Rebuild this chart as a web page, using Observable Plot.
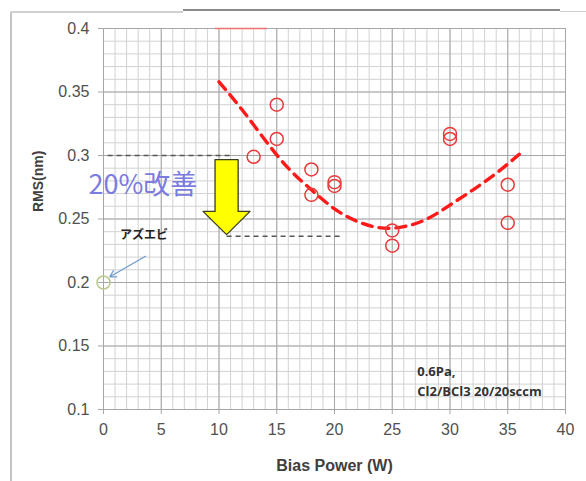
<!DOCTYPE html>
<html><head><meta charset="utf-8">
<script src="https://cdn.jsdelivr.net/npm/d3@7"></script>
<script src="https://cdn.jsdelivr.net/npm/@observablehq/plot@0.6"></script>
<style>
body{margin:0;background:#fff;}
#wrap{position:relative;width:586px;height:481px;overflow:hidden;background:#fff;}
.ln{position:absolute;}
#chart{position:absolute;left:0;top:0;}
</style></head>
<body><div id="wrap">
<div class="ln" style="left:10px;top:11px;width:2px;height:470px;background:#c4c4c4"></div>
<div class="ln" style="left:10px;top:11px;width:173px;height:2px;background:#d0d0d0"></div>
<div class="ln" style="left:183px;top:9px;width:377px;height:2px;background:#8a8a8a"></div>
<div class="ln" style="left:560px;top:11px;width:26px;height:1px;background:#d0d0d0"></div>
<div id="chart"></div></div>
<script>
// Measured samples
const biasPower = [13, 15, 15, 18, 18, 20, 20, 25, 25, 30, 30, 35, 35];
const rms = [0.299, 0.340, 0.313, 0.289, 0.269, 0.279, 0.276, 0.241, 0.229, 0.317, 0.313, 0.277, 0.247];
// Reference point (アズエビ)
const refPower = [0];
const refRms = [0.2];
// Dashed trend curve
const fitPower = [10, 12, 14, 16, 18, 20, 22, 24, 26, 28, 30, 32, 34, 36];
const fitRms = [0.358, 0.336, 0.312, 0.290, 0.273, 0.258, 0.248, 0.243, 0.244, 0.250, 0.261, 0.273, 0.286, 0.301];
// Axis ticks
const xTicks = [0, 5, 10, 15, 20, 25, 30, 35, 40];
const yTicks = [0.1, 0.15, 0.2, 0.25, 0.3, 0.35, 0.4];
// Annotation helpers (data units)
const guideY = [0.3, 0.2365];
const guideX1 = [0.4, 10.7];
const guideX2 = [11, 20.5];
const arrowY = [0.2963, 0.2556, 0.2556, 0.2373];
const arrowX1 = [9.7, 9.7, 8.66, 10.7];
const arrowX2 = [11.7, 11.7, 12.73, 10.7];

const points = biasPower.map((x, i) => ({x, y: rms[i]}));
const ref = refPower.map((x, i) => ({x, y: refRms[i]}));
const fit = fitPower.map((x, i) => ({x, y: fitRms[i]}));
const guides = guideY.map((y, i) => ({y, x1: guideX1[i], x2: guideX2[i]}));
const arrow = arrowY.map((y, i) => ({y, x1: arrowX1[i], x2: arrowX2[i]}));
const minorX = d3.range(0, 41);
const minorY = d3.range(10, 41).map(d => d / 100);

const chart = Plot.plot({
  width: 586, height: 481,
  marginLeft: 103, marginRight: 21, marginTop: 28, marginBottom: 72,
  x: {domain: [0, 40]},
  y: {domain: [0.1, 0.4]},
  style: {fontFamily: "'Liberation Sans', Arial, sans-serif", fontSize: "16px", color: "#595959", background: "transparent", overflow: "visible"},
  marks: [
    Plot.gridX(minorX, {stroke: "#d2d2d2", strokeOpacity: 1}),
    Plot.gridY(minorY, {stroke: "#d2d2d2", strokeOpacity: 1}),
    Plot.gridX(xTicks, {stroke: "#a6a6a6", strokeOpacity: 1}),
    Plot.gridY(yTicks, {stroke: "#a6a6a6", strokeOpacity: 1}),
    Plot.axisX(xTicks, {tickSize: 5, tickPadding: 9, stroke: "#a6a6a6", fill: "#505050", label: null, tickFormat: d => String(d)}),
    Plot.axisY(yTicks, {tickSize: 5, tickPadding: 9, stroke: "#a6a6a6", fill: "#505050", label: null, tickFormat: d => String(d)}),
    Plot.ruleY([0.4], {x1: 9.7, x2: 14.2, stroke: "#f07070", strokeWidth: 1.5}),
    Plot.ruleY(guides, {y: "y", x1: "x1", x2: "x2", stroke: "#555", strokeWidth: 1.5, strokeDasharray: "5,4"}),
    Plot.areaX(arrow, {y: "y", x1: "x1", x2: "x2", fill: "#ffff00", stroke: "#3d3d1f", strokeWidth: 1.3}),
    Plot.line(fit, {x: "x", y: "y", curve: "natural", stroke: "#ff1a1a", strokeWidth: 3.4, strokeDasharray: "10,7"}),
    Plot.dot(points, {x: "x", y: "y", r: 6.5, stroke: "#e83a3a", strokeWidth: 1.5}),
    Plot.dot(ref, {x: "x", y: "y", r: 6.5, stroke: "#b9c98e", strokeWidth: 1.5}),
    Plot.arrow([{x1: 3.64, y1: 0.2207, x2: 0.55, y2: 0.2045}], {x1: "x1", y1: "y1", x2: "x2", y2: "y2", stroke: "#6f9bd2", strokeWidth: 1.3, headLength: 8}),
    Plot.text(["20%改善"], {x: -1.3, y: 0.2766, text: d => d, textAnchor: "start", fontSize: 27, fill: "#7b7be0", fontFamily: "'Noto Sans CJK JP', sans-serif"}),
    Plot.text(["アズエビ"], {x: 3.5, y: 0.237, text: d => d, fontSize: 12, fontWeight: "bold", fill: "#222", fontFamily: "'Noto Sans CJK JP', sans-serif"}),
    Plot.text(["0.6Pa,"], {x: 27.16, y: 0.1296, text: d => d, textAnchor: "start", fontSize: 13, fontWeight: "bold", fill: "#333", fontFamily: "'Open Sans', sans-serif"}),
    Plot.text(["Cl2/BCl3 20/20sccm"], {x: 27.16, y: 0.1139, text: d => d, textAnchor: "start", fontSize: 13, fontWeight: "bold", fill: "#333", fontFamily: "'Open Sans', sans-serif"}),
    Plot.text(["Bias Power (W)"], {frameAnchor: "bottom", dy: 61, text: d => d, fontSize: 16, fontWeight: "bold", fill: "#404040"}),
    Plot.text(["RMS(nm)"], {frameAnchor: "left", dx: -65, dy: -7, rotate: -90, text: d => d, fontSize: 14, fontWeight: "bold", fill: "#404040"})
  ]
});
document.getElementById("chart").appendChild(chart);
</script>
</body></html>
